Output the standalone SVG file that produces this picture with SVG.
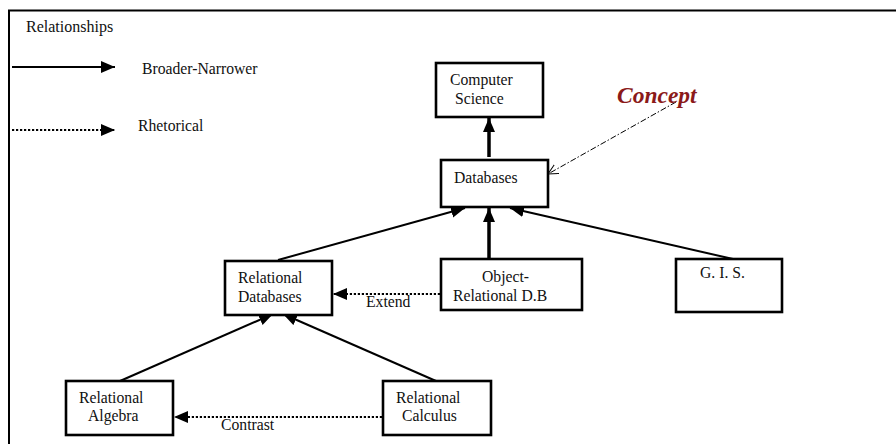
<svg xmlns="http://www.w3.org/2000/svg" width="896" height="444" viewBox="0 0 896 444">
<style>
text{font-family:"Liberation Serif","Times New Roman",serif;font-size:15.7px;fill:#111}
.box{fill:#fff;stroke:#000;stroke-width:2.6}
.e{stroke:#000;stroke-width:2;fill:none}
.thick{stroke-width:3.5}
.dot{stroke-dasharray:2.2 1.8;stroke-width:2}
.concept{font-weight:bold;font-style:italic;font-size:23.5px;fill:#8b1a1a}
</style>
<defs>
<marker id="ah" markerUnits="userSpaceOnUse" markerWidth="15" markerHeight="13" refX="14" refY="6" orient="auto">
<path d="M0,0 L14,6 L0,12 z" fill="#000"/>
</marker>
<marker id="oh" markerUnits="userSpaceOnUse" markerWidth="12" markerHeight="12" refX="10" refY="5" orient="auto">
<path d="M0,0 L10,5 L0,10" fill="none" stroke="#000" stroke-width="1"/>
</marker>
</defs>
<rect width="896" height="444" fill="#fff"/>
<g id="frame">
<path d="M9,444 V10.5 H896" fill="none" stroke="#000" stroke-width="2"/>
</g>
<g id="legend">
<text x="26" y="32" style="font-size:16px">Relationships</text>
<line class="e" x1="12" y1="67" x2="115" y2="67" marker-end="url(#ah)"/>
<text x="142" y="74">Broader-Narrower</text>
<line class="e dot" x1="12" y1="130" x2="115" y2="130" marker-end="url(#ah)"/>
<text x="138" y="131">Rhetorical</text>
</g>
<g id="connectors">
<line class="e thick" x1="489" y1="157" x2="489" y2="118" marker-end="url(#ah)"/>
<line class="e" x1="278" y1="260" x2="465" y2="208" marker-end="url(#ah)"/>
<line class="e thick" x1="489" y1="259" x2="489" y2="208" marker-end="url(#ah)"/>
<line class="e" x1="733" y1="259" x2="510" y2="208" marker-end="url(#ah)"/>
<line class="e dot" x1="440" y1="294" x2="333" y2="294" marker-end="url(#ah)"/>
<line class="e" x1="120" y1="381" x2="273" y2="314" marker-end="url(#ah)"/>
<line class="e" x1="436" y1="381" x2="283" y2="314" marker-end="url(#ah)"/>
<line class="e dot" x1="382" y1="417" x2="174" y2="417" marker-end="url(#ah)"/>
<line x1="676" y1="102" x2="548" y2="174" stroke="#000" stroke-width="1" stroke-dasharray="6 2 1.5 2" marker-end="url(#oh)"/>
<text x="366" y="307">Extend</text>
<text x="221" y="430">Contrast</text>
</g>
<g id="concept">
<text class="concept" x="617" y="103">Concept</text>
</g>
<g id="cs">
<rect class="box" x="436" y="63" width="107" height="54"/>
<text x="450" y="85">Computer</text>
<text x="455" y="104">Science</text>
</g>
<g id="db">
<rect class="box" x="441" y="160" width="107" height="47"/>
<text x="454" y="183">Databases</text>
</g>
<g id="reldb">
<rect class="box" x="225" y="261" width="107" height="54"/>
<text x="238" y="283">Relational</text>
<text x="238" y="302">Databases</text>
</g>
<g id="ordb">
<rect class="box" x="441" y="259" width="141" height="51"/>
<text x="482" y="282">Object-</text>
<text x="453" y="301">Relational D.B</text>
</g>
<g id="gis">
<rect class="box" x="676" y="259" width="106" height="53"/>
<text x="700" y="278">G. I. S.</text>
</g>
<g id="ralg">
<rect class="box" x="66" y="381" width="107" height="54"/>
<text x="79" y="403">Relational</text>
<text x="88" y="421">Algebra</text>
</g>
<g id="rcalc">
<rect class="box" x="383" y="381" width="108" height="54"/>
<text x="396" y="403">Relational</text>
<text x="402" y="421">Calculus</text>
</g>
</svg>
